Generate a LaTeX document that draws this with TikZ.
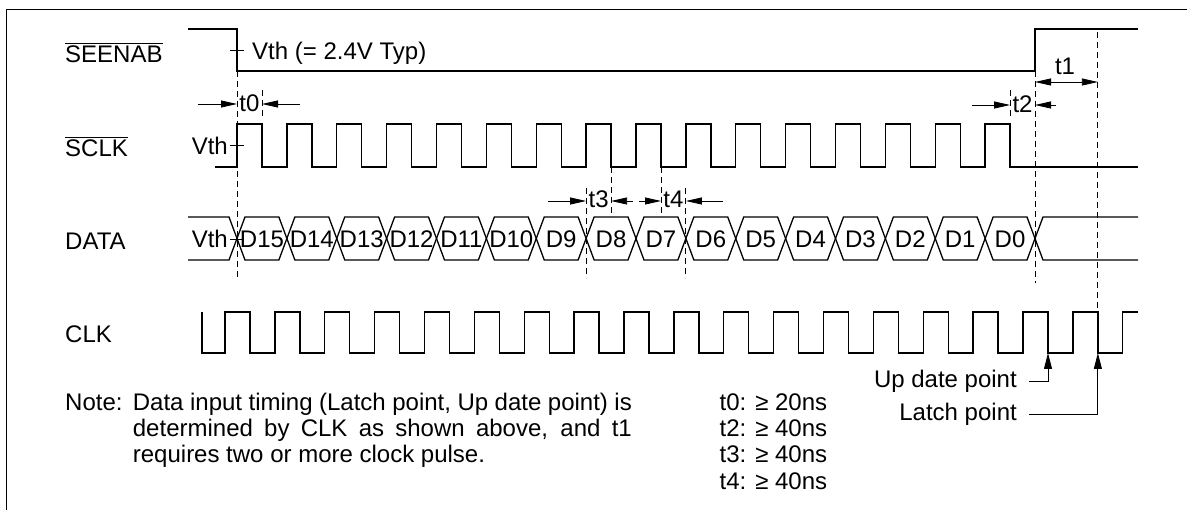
\documentclass[tikz,border=0pt]{standalone}
\usepackage{fontspec}
\setmainfont{Liberation Sans}
\usetikzlibrary{arrows.meta}
\tikzset{
  wave/.style={line width=1.3pt},
  tick/.style={line width=0.9pt},
  guide/.style={line width=0.9pt, dash pattern=on 6pt off 4pt},
  dim/.style={line width=0.8pt, -{Triangle[length=16pt,width=7pt]}},
  dimboth/.style={line width=0.8pt, {Triangle[length=16pt,width=7pt]}-{Triangle[length=16pt,width=7pt]}},
  pointer/.style={line width=0.9pt, -{Triangle[length=16pt,width=8pt]}},
  lbl/.style={font=\fontsize{24}{28}\selectfont, inner sep=0pt},
}
\begin{document}
\begin{tikzpicture}[x=1pt, y=-1pt]
\useasboundingbox (0,0) rectangle (1187,510);
\def\per{49.875}
\draw[line width=1pt] (1187,10) -- (6,10) -- (6,510);

\node[lbl, anchor=base west] (seenab) at (65,63) {SEENAB};
\node[lbl, anchor=base west] (sclk) at (65,157) {SCLK};
\node[lbl, anchor=base west] (data) at (65,250) {DATA};
\node[lbl, anchor=base west] (clk) at (65,343) {CLK};
\draw[tick] ([yshift=3pt]seenab.north west) -- ([yshift=3pt]seenab.north east);
\draw[tick] ([yshift=3pt]sclk.north west) -- ([yshift=3pt]sclk.north east);

\draw[wave] (188,29) -- (237,29) -- (237,71) -- (1035,71) -- (1035,29) -- (1138,29);
\draw[tick] (230,50) -- (244,50);
\node[lbl, anchor=base west] (vth) at (252,60) {Vth (= 2.4V Typ)};

\draw[wave] (215,167) \foreach \k in {0,...,15} {-- ({237+\k*\per},167) -- ++(0,-43) -- ++(25,0) -- ++(0,43)} -- (1138,167);
\draw[tick] (230,145) -- (244,145);
\node[lbl, anchor=base east] (vths) at (228,155) {Vth};

\draw[wave] (188,217) -- (229,217) -- (237,238.5) -- (229,260) -- (188,260);
\foreach \k in {0,...,15}
  \draw[wave] ({237+\k*\per},238.5) -- ++(8,-21.5) -- ({237+(\k+1)*\per-8},217) -- ({237+(\k+1)*\per},238.5) -- ({237+(\k+1)*\per-8},260) -- ({237+\k*\per+8},260) -- cycle;
\draw[wave] (1138,217) -- ({237+16*\per+8},217) -- ({237+16*\per},238.5) -- ({237+16*\per+8},260) -- (1138,260);
\foreach \k in {0,...,15} {
  \pgfmathtruncatemacro\bit{15-\k}
  \node[lbl, anchor=base] (d\bit) at ({237+(\k+0.5)*\per},248) {D\bit};
}
\draw[tick] (230,239) -- (244,239);
\node[lbl, anchor=base east] (vthd) at (228,248) {Vth};

\draw[wave] (202,312) -- (202,353) \foreach \k in {0,...,17} {-- ({225+\k*\per},353) -- ++(0,-41) -- ++(25,0) -- ++(0,41)} -- ({225+18*\per},353) -- ++(0,-41) -- (1138,312);

\foreach \x/\a/\b in {237/71/280, 262/90/117, 1010.1/90/117, 1035/71/283, 1097.9/32/312, 586.1/188/278, 611.1/167/217, 661/167/217, 685.9/188/278}
  \draw[guide] (\x,\a) -- (\x,\b);

\draw[dim] (198,104) -- (237,104);
\draw[dim] (300,104) -- (262,104);
\node[lbl, anchor=base] (t0) at (249.5,112) {t0};
\draw[dim] (972,105) -- (1010.1,105);
\draw[dim] (1056,105) -- (1035,105);
\node[lbl, anchor=base] (t2) at (1022.5,113) {t2};
\draw[dimboth] (1035,82) -- (1097.9,82);
\node[lbl, anchor=base] (t1) at (1065,75) {t1};
\draw[dim] (548,201) -- (586.1,201);
\draw[dim] (633,201) -- (611.1,201);
\node[lbl, anchor=base] (t3) at (598.6,208) {t3};
\draw[dim] (639,201) -- (661,201);
\draw[dim] (723,201) -- (685.9,201);
\node[lbl, anchor=base] (t4) at (673.5,208) {t4};

\node[lbl, anchor=base east] (upd) at (1017,388) {Up date point};
\node[lbl, anchor=base east] (latch) at (1017,421) {Latch point};
\coordinate (updpt) at ({250+16*\per},353);
\coordinate (latpt) at ({250+17*\per},353);
\draw[pointer] ([xshift=12pt]upd.east) -| (updpt);
\draw[pointer] ([xshift=12pt]latch.east) -| (latpt);

\node[lbl, anchor=base west] (note) at (65,411) {Note:};
\node[lbl, anchor=base west] (n1) at (132.7,411) {\makebox[499pt][s]{Data input timing (Latch point, Up date point) is}};
\node[lbl, anchor=base west] (n2) at (132.7,437) {\makebox[499pt][s]{determined by CLK as shown above, and t1}};
\node[lbl, anchor=base west] (n3) at (132.7,463) {requires two or more clock pulse.};

\foreach \tn/\val/\yy in {0/20/411, 2/40/437, 3/40/463, 4/40/490}
  \node[lbl, anchor=base west] (tv\tn) at (719.5,\yy) {t\tn: ≥ \val ns};
\end{tikzpicture}
\end{document}
